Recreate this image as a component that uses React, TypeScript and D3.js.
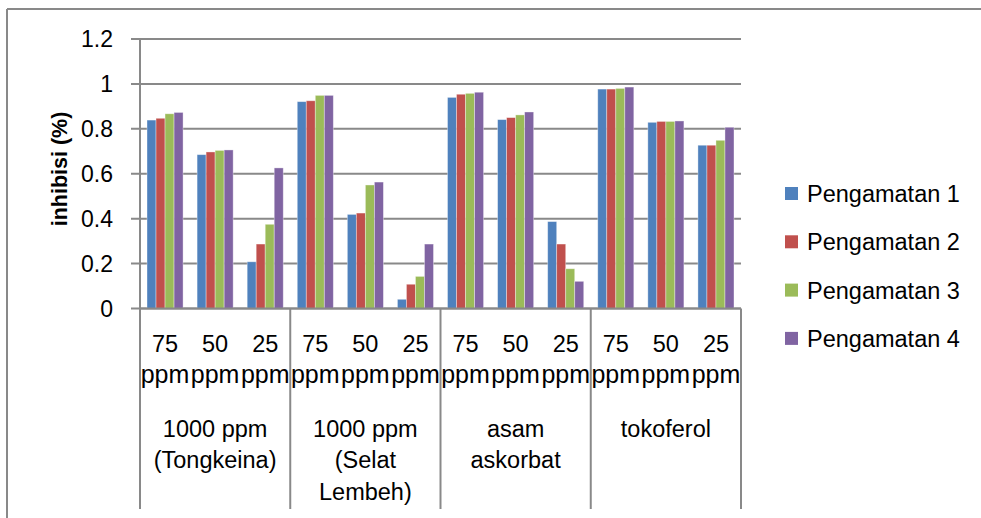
import React from "react";
import * as d3 from "d3";

const catLabels = ["75", "50", "25", "75", "50", "25", "75", "50", "25", "75", "50", "25"];
const groupLabels = [
  ["1000 ppm", "(Tongkeina)"],
  ["1000 ppm", "(Selat", "Lembeh)"],
  ["asam", "askorbat"],
  ["tokoferol"],
];
const seriesNames = ["Pengamatan 1", "Pengamatan 2", "Pengamatan 3", "Pengamatan 4"];
const pengamatan1 = [0.839, 0.685, 0.208, 0.921, 0.419, 0.041, 0.94, 0.841, 0.387, 0.977, 0.829, 0.727];
const pengamatan2 = [0.847, 0.697, 0.287, 0.925, 0.425, 0.108, 0.954, 0.85, 0.287, 0.977, 0.833, 0.727];
const pengamatan3 = [0.867, 0.704, 0.375, 0.949, 0.55, 0.143, 0.958, 0.862, 0.177, 0.98, 0.833, 0.749];
const pengamatan4 = [0.873, 0.706, 0.626, 0.949, 0.563, 0.287, 0.963, 0.875, 0.121, 0.986, 0.835, 0.807];
const yTicks = [0, 0.2, 0.4, 0.6, 0.8, 1, 1.2];
const colors = ["#4F81BD", "#C0504D", "#9BBB59", "#8064A2"];

const FONT = "'Liberation Sans', Arial, sans-serif";

export default function App() {
  const W = 981, H = 518;
  const left = 140, right = 741, top = 39, bottom = 308.5;
  const series = [pengamatan1, pengamatan2, pengamatan3, pengamatan4];
  const y = d3.scaleLinear().domain([0, 1.2]).range([bottom, top]);
  const x = d3.scaleBand<number>().domain(d3.range(catLabels.length)).range([left, right]).padding(0);
  const bw = x.bandwidth();
  const gw = bw * 0.72;
  const x1 = d3.scaleBand<number>().domain(d3.range(series.length)).range([(bw - gw) / 2, (bw + gw) / 2]).padding(0);
  const grid = "#898989";
  const tickBottom = 509;
  const groupSize = 3;
  const groupEdges = d3.range(groupLabels.length + 1).map((i) =>
    i < groupLabels.length ? (x(i * groupSize) as number) : right
  );

  return (
    <svg width={W} height={H} style={{ position: "absolute", left: 0, top: 0, background: "#fff" }} fontFamily={FONT}>
      <rect x={0} y={0} width={W} height={H} fill="#fff" />
      {/* outer frame */}
      <line x1={7} y1={9} x2={W} y2={9} stroke={grid} strokeWidth={2} />
      <line x1={7} y1={9} x2={7} y2={H} stroke={grid} strokeWidth={2} />
      {/* gridlines and y ticks */}
      {yTicks.map((t) => (
        <g key={t}>
          <line x1={131} x2={right} y1={y(t)} y2={y(t)} stroke={grid} strokeWidth={2} />
          <text x={113} y={y(t)} dy="0.36em" textAnchor="end" fontSize={23} fill="#000">
            {String(t)}
          </text>
        </g>
      ))}
      {/* bars */}
      {catLabels.map((_, ci) => (
        <g key={ci} transform={`translate(${x(ci)},0)`}>
          {series.map((s, si) => (
            <rect
              key={si}
              x={x1(si)}
              y={y(s[ci])}
              width={x1.bandwidth()}
              height={bottom - y(s[ci])}
              fill={colors[si]}
              stroke="rgba(255,255,255,0.45)"
              strokeWidth={0.8}
            />
          ))}
        </g>
      ))}
      {/* axes */}
      <line x1={left} x2={left} y1={top} y2={tickBottom} stroke={grid} strokeWidth={2} />
      <line x1={left} x2={right} y1={bottom} y2={bottom} stroke={grid} strokeWidth={2} />
      {groupEdges.map((gx, i) => (
        <line key={i} x1={gx} x2={gx} y1={bottom} y2={tickBottom} stroke={grid} strokeWidth={2} />
      ))}
      {/* category labels */}
      {catLabels.map((c, ci) => {
        const cx = (x(ci) as number) + bw / 2;
        return (
          <g key={ci}>
            <text x={cx} y={351.7} textAnchor="middle" fontSize={23.5} fill="#000">{c}</text>
            <text x={cx} y={383.3} textAnchor="middle" fontSize={25} fill="#000">ppm</text>
          </g>
        );
      })}
      {groupLabels.map((lines, gi) => {
        const cx = (groupEdges[gi] + groupEdges[gi + 1]) / 2;
        return (
          <g key={gi}>
            {lines.map((l, li) => (
              <text key={li} x={cx} y={436.5 + li * 31.7} textAnchor="middle" fontSize={23.5} fill="#000">
                {l}
              </text>
            ))}
          </g>
        );
      })}
      {/* y axis title */}
      <text
        transform="translate(67,169) rotate(-90)"
        textAnchor="middle"
        fontSize={21.5}
        fontWeight="bold"
        fill="#000"
      >
        inhibisi (%)
      </text>
      {/* legend */}
      {seriesNames.map((n, i) => {
        const cy = 193.5 + i * 48.3;
        return (
          <g key={n}>
            <rect x={785} y={cy - 6.5} width={13} height={13} fill={colors[i]} />
            <text x={807} y={cy} dy="0.36em" fontSize={23.5} fill="#000">{n}</text>
          </g>
        );
      })}
    </svg>
  );
}
